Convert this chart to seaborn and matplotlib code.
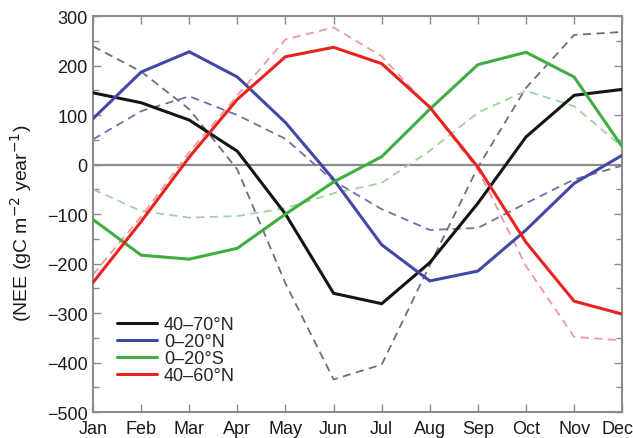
import matplotlib
matplotlib.use("Agg")
import matplotlib.pyplot as plt
import matplotlib.transforms as mtransforms
import seaborn as sns
import pandas as pd
import numpy as np
from matplotlib.ticker import MultipleLocator

months = ["Jan", "Feb", "Mar", "Apr", "May", "Jun", "Jul", "Aug", "Sep", "Oct", "Nov", "Dec"]

# Solid series
nee_40_70N = [145, 125, 90, 27, -100, -260, -281, -198, -78, 56, 140, 152]
nee_0_20N = [93, 187, 228, 177, 85, -30, -162, -235, -215, -132, -38, 19]
nee_0_20S = [-111, -183, -191, -169, -100, -35, 16, 112, 202, 227, 177, 36]
nee_40_60N = [-238, -115, 15, 132, 218, 237, 204, 116, -5, -157, -276, -302]

# Dashed (second estimate) series
alt_40_70N = [239, 188, 112, -10, -240, -434, -404, -203, -5, 155, 262, 268]
alt_0_20N = [51, 108, 138, 100, 52, -33, -90, -132, -128, -78, -30, -2]
alt_0_20S = [-50, -94, -107, -104, -88, -58, -37, 28, 105, 149, 118, 36]
alt_40_60N = [-222, -105, 25, 140, 253, 277, 219, 114, -10, -205, -348, -355]

labels = ["40\u201370\u00b0N", "0\u201320\u00b0N", "0\u201320\u00b0S", "40\u201360\u00b0N"]
solid_colors = ["#151515", "#4248a6", "#3fae3f", "#e8231f"]
dash_colors = ["#6e6e76", "#7070a6", "#9fd39f", "#ee9a9a"]

solid = [nee_40_70N, nee_0_20N, nee_0_20S, nee_40_60N]
dashed = [alt_40_70N, alt_0_20N, alt_0_20S, alt_40_60N]

sns.set_style("ticks")
plt.rcParams["font.family"] = ["Liberation Sans", "DejaVu Sans"]

fig = plt.figure(figsize=(6.33, 4.39), dpi=100)
ax = fig.add_axes([0.147, 0.059, 0.836, 0.902])

x = np.arange(12)
ax.axhline(0, color="#8c8c8c", lw=1.6, zorder=1)

for vals, c in zip(dashed, dash_colors):
    df = pd.DataFrame({"m": x, "v": vals})
    sns.lineplot(data=df, x="m", y="v", ax=ax, color=c, lw=1.3,
                 linestyle=(0, (4.5, 3)), zorder=2)

handles = []
for vals, c, lab in zip(solid, solid_colors, labels):
    df = pd.DataFrame({"m": x, "v": vals})
    sns.lineplot(data=df, x="m", y="v", ax=ax, color=c, lw=2.2, zorder=3)
    handles.append(ax.lines[-1])

ax.set_xlim(0, 11)
ax.set_ylim(-500, 300)
ax.set_xticks(x)
ax.set_xticklabels(months)
ax.yaxis.set_major_locator(MultipleLocator(100))
ax.yaxis.set_minor_locator(MultipleLocator(50))
ax.tick_params(axis="both", which="both", direction="in", top=True, right=True,
               color="#8c8c8c", labelsize=13, labelcolor="#1a1a1a")
ax.tick_params(axis="both", which="major", length=6, width=1)
ax.tick_params(axis="y", which="minor", length=4, width=1)
ax.tick_params(axis="y", which="both", labelright=False, pad=4)
ax.tick_params(axis="x", pad=5.5)
for s in ax.spines.values():
    s.set_color("#8c8c8c")
    s.set_linewidth(1.5)

# nudge the last month label so it stays inside the figure like the original
last = ax.get_xticklabels()[-1]
last.set_transform(last.get_transform() + mtransforms.ScaledTranslation(-5 / 100, 0, fig.dpi_scale_trans))

ax.set_xlabel("")
ax.set_ylabel("(NEE (gC m$^{-2}$ year$^{-1}$)", fontsize=14, color="#1a1a1a")
ax.yaxis.set_label_coords(-0.112, 0.48)

leg = ax.legend(handles, labels, loc="lower left", bbox_to_anchor=(0.045, 0.07),
                frameon=False, fontsize=13, handlelength=2.25, handletextpad=0.35,
                labelspacing=0.0, borderaxespad=0, borderpad=0)

fig.savefig("out.png", dpi=100)
